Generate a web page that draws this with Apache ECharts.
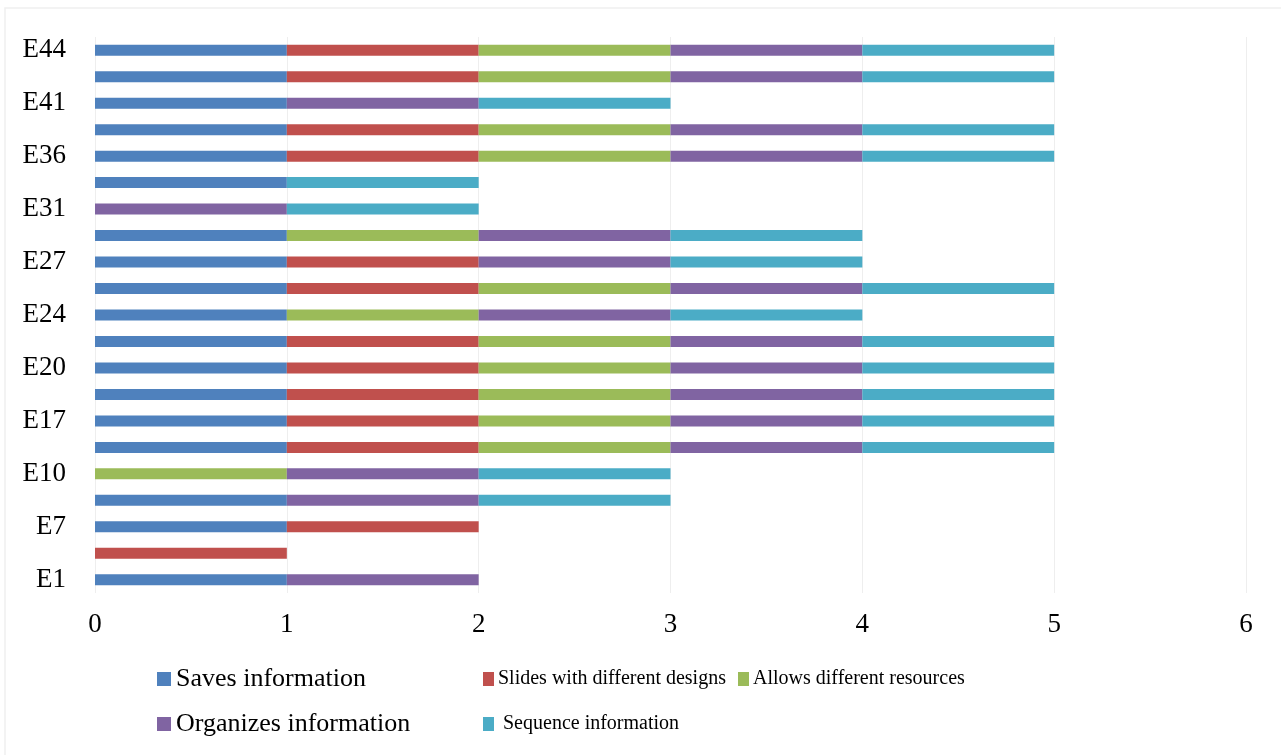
<!DOCTYPE html>
<html>
<head>
<meta charset="utf-8">
<script src="https://cdn.jsdelivr.net/npm/echarts@6/dist/echarts.min.js"></script>
<style>
  html, body { margin: 0; padding: 0; background: #fff; }
  #chart { width: 1281px; height: 755px; }
</style>
</head>
<body>
<div id="chart"></div>
<script>
// Rows from bottom to top
const categories = ['E1','E3','E7','E9','E10','E15','E17','E19','E20','E22','E24','E25','E27','E29','E31','E34','E36','E38','E41','E42','E44'];

const savesInformation      = [1,0,1,1,0,1,1,1,1,1,1,1,1,1,0,1,1,1,1,1,1];
const slidesDifferentDesign = [0,1,1,0,0,1,1,1,1,1,0,1,1,0,0,0,1,1,0,1,1];
const allowsResources       = [0,0,0,0,1,1,1,1,1,1,1,1,0,1,0,0,1,1,0,1,1];
const organizesInformation  = [1,0,0,1,1,1,1,1,1,1,1,1,1,1,1,0,1,1,1,1,1];
const sequenceInformation   = [0,0,0,1,1,1,1,1,1,1,1,1,1,1,1,1,1,1,1,1,1];

const xTicks = [0, 1, 2, 3, 4, 5, 6];

const seriesNames = [
  'Saves information',
  'Slides with different designs',
  'Allows different resources',
  'Organizes information',
  'Sequence information'
];
const seriesData = [savesInformation, slidesDifferentDesign, allowsResources, organizesInformation, sequenceInformation];
const colors = ['#4F81BD', '#C0504D', '#9BBB59', '#8064A2', '#4BACC6'];

const FONT = '"Liberation Serif", "Times New Roman", serif';

// One legend entry placed at a fixed spot
function legendAt(name, left, top, size, boxW, gap, prefix) {
  return {
    data: [name],
    left: left,
    top: top,
    padding: 0,
    itemWidth: boxW,
    itemHeight: 14,
    itemGap: 0,
    icon: 'rect',
    selectedMode: false,
    formatter: (n) => (prefix || '') + n,
    textStyle: { fontFamily: FONT, fontSize: size, color: '#000', lineHeight: 26, padding: [0, 0, 0, gap - 5] }
  };
}

const chart = echarts.init(document.getElementById('chart'), null, { renderer: 'canvas' });

chart.setOption({
  animation: false,
  backgroundColor: '#fff',
  color: colors,
  graphic: [{
    type: 'rect',
    shape: { x: 5, y: 8, width: 1290, height: 760 },
    style: { fill: 'none', stroke: '#f0f0f0', lineWidth: 1.5 },
    silent: true
  }],
  grid: { left: 95, right: 35, top: 37, bottom: 162, containLabel: false },
  legend: [
    legendAt(seriesNames[0], 157, 666, 26, 14, 5),
    legendAt(seriesNames[1], 483, 666, 20, 11, 4),
    legendAt(seriesNames[2], 738, 666, 20, 11, 4),
    legendAt(seriesNames[3], 157, 711, 26, 14, 5),
    legendAt(seriesNames[4], 483, 711, 20, 11, 4, ' ')
  ],
  xAxis: {
    type: 'value',
    min: xTicks[0],
    max: xTicks[xTicks.length - 1],
    interval: 1,
    axisLine: { show: false },
    axisTick: { show: false },
    splitLine: { show: true, lineStyle: { color: '#eeeeee', width: 1 } },
    axisLabel: { fontFamily: FONT, fontSize: 27, color: '#000', margin: 18 }
  },
  yAxis: {
    type: 'category',
    data: categories,
    axisLine: { show: false },
    axisTick: { show: false },
    splitLine: { show: false },
    axisLabel: { interval: 1, fontFamily: FONT, fontSize: 27, color: '#000', margin: 29, padding: [4, 0, 0, 0] }
  },
  series: seriesNames.map((name, i) => ({
    name: name,
    type: 'bar',
    stack: 'total',
    barWidth: 11,
    data: seriesData[i],
    itemStyle: { color: colors[i] },
    emphasis: { disabled: true }
  }))
});
</script>
</body>
</html>
